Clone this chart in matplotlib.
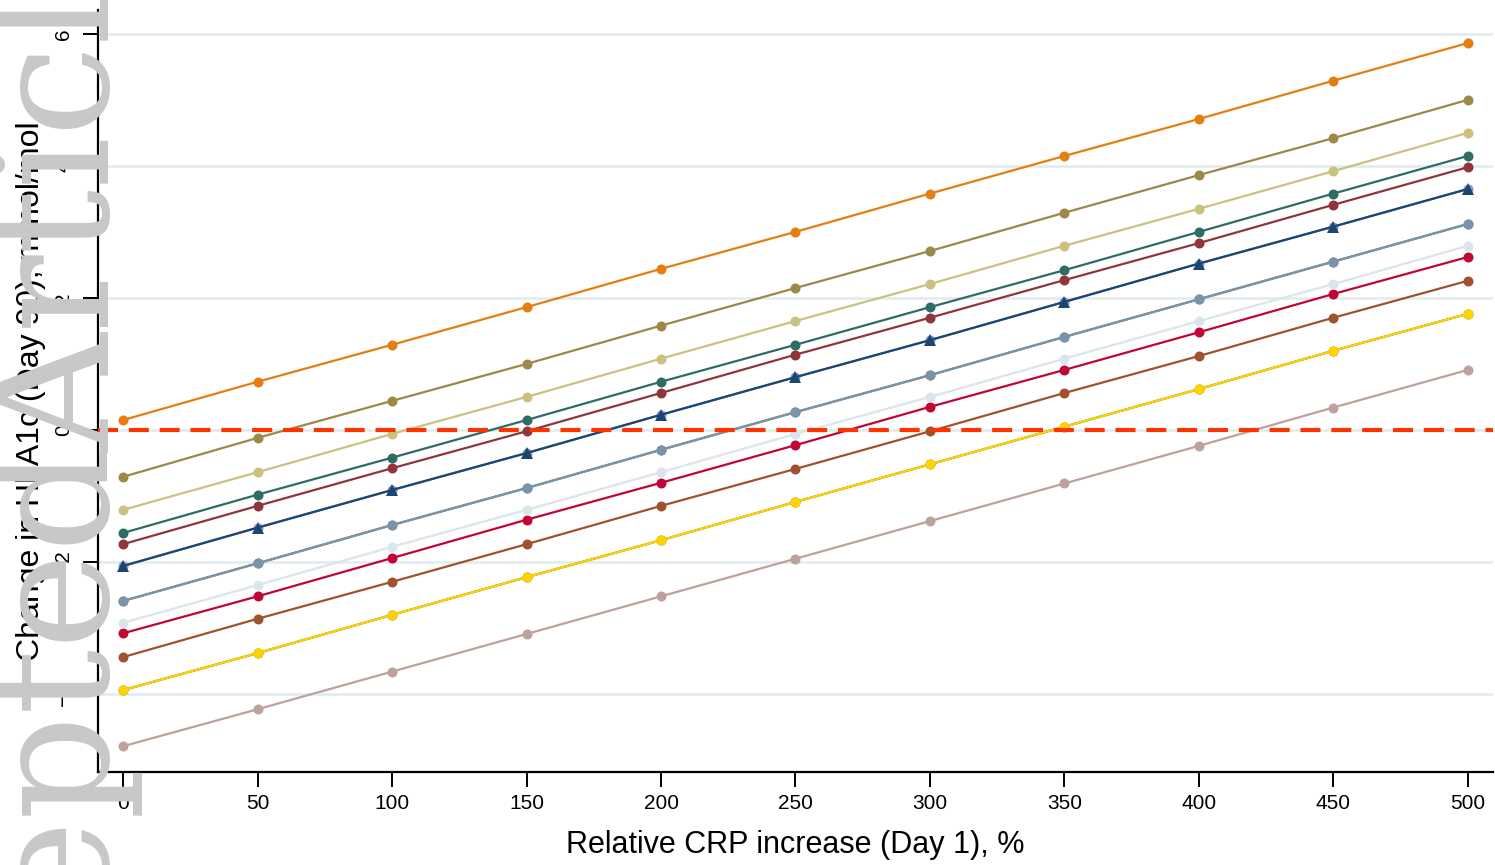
import matplotlib
matplotlib.use("Agg")
import matplotlib.pyplot as plt

# ---------------- data ----------------
crp_increase = [0, 50, 100, 150, 200, 250, 300, 350, 400, 450, 500]

s_dkorange   = [0.15, 0.73, 1.29, 1.86, 2.44, 3.00, 3.58, 4.15, 4.71, 5.29, 5.86]
s_brown      = [-0.71, -0.12, 0.44, 1.00, 1.58, 2.15, 2.71, 3.29, 3.86, 4.42, 5.00]
s_khaki      = [-1.21, -0.64, -0.06, 0.50, 1.08, 1.65, 2.21, 2.79, 3.35, 3.92, 4.50]
s_emerald    = [-1.56, -0.98, -0.42, 0.15, 0.73, 1.29, 1.86, 2.42, 3.00, 3.58, 4.15]
s_maroon     = [-1.73, -1.15, -0.58, -0.02, 0.56, 1.14, 1.70, 2.27, 2.83, 3.41, 3.98]
s_navy       = [-2.06, -1.48, -0.91, -0.35, 0.23, 0.80, 1.36, 1.94, 2.52, 3.08, 3.65]
s_lavender   = [-2.06, -1.48, -0.91, -0.35, 0.23, 0.80, 1.36, 1.94, 2.52, 3.08, 3.65]
s_emidblue   = [-2.59, -2.02, -1.44, -0.88, -0.30, 0.27, 0.83, 1.41, 1.98, 2.55, 3.12]
s_teal       = [-2.59, -2.02, -1.44, -0.88, -0.30, 0.27, 0.83, 1.41, 1.98, 2.55, 3.12]
s_bluishgray = [-2.92, -2.35, -1.77, -1.21, -0.64, -0.06, 0.50, 1.08, 1.65, 2.21, 2.79]
s_cranberry  = [-3.08, -2.52, -1.94, -1.36, -0.80, -0.23, 0.35, 0.91, 1.48, 2.06, 2.62]
s_sienna     = [-3.44, -2.86, -2.30, -1.73, -1.15, -0.59, -0.02, 0.56, 1.12, 1.70, 2.26]
s_gold       = [-3.94, -3.38, -2.80, -2.23, -1.67, -1.09, -0.52, 0.05, 0.62, 1.20, 1.76]
s_forest     = [-3.94, -3.38, -2.80, -2.23, -1.67, -1.09, -0.52, 0.05, 0.62, 1.20, 1.76]
s_erose      = [-4.79, -4.23, -3.66, -3.09, -2.52, -1.95, -1.38, -0.81, -0.24, 0.34, 0.91]

y_ticks = [-4, -2, 0, 2, 4, 6]
x_ticks = [0, 50, 100, 150, 200, 250, 300, 350, 400, 450, 500]

# (values, colour, marker) in drawing order (hidden duplicates first)
series = [
    (s_lavender,   "#938dd2", "o"),
    (s_teal,       "#6e8e84", "o"),
    (s_forest,     "#55752f", "o"),
    (s_navy,       "#1a476f", "^"),
    (s_maroon,     "#90353b", "o"),
    (s_dkorange,   "#e57e10", "o"),
    (s_cranberry,  "#c10534", "o"),
    (s_khaki,      "#cac27e", "o"),
    (s_sienna,     "#a0522d", "o"),
    (s_emidblue,   "#7b92a8", "o"),
    (s_emerald,    "#2d6d66", "o"),
    (s_brown,      "#9c8847", "o"),
    (s_erose,      "#bfa19c", "o"),
    (s_gold,       "#ffd200", "o"),
    (s_bluishgray, "#d9e6eb", "o"),
]

# ---------------- figure ----------------
W, H, DPI = 1495, 865, 100
fig = plt.figure(figsize=(W / DPI, H / DPI), dpi=DPI)
fig.patch.set_facecolor("white")

ax = fig.add_axes([98 / W, 1 - 772 / H, (1493 - 98) / W, (772 - 10) / H])
ax.set_xlim(-9.3, 509.3)
ax.set_ylim(-5.18, 6.36)

for yt in y_ticks:
    ax.axhline(yt, color="#e3ecee", lw=2.0, zorder=1)

for vals, col, mk in series:
    ms = 8.5 if mk == "^" else 7.2
    ax.plot(crp_increase, vals, color=col, lw=1.6, marker=mk, ms=ms,
            markeredgewidth=0, zorder=3)

ax.axhline(0, color="#ff3300", lw=3.0, dashes=(4.8, 2.6), zorder=4)

for side in ["top", "right"]:
    ax.spines[side].set_visible(False)
for side in ["left", "bottom"]:
    ax.spines[side].set_linewidth(1.6)
    ax.spines[side].set_color("black")

ax.set_xticks(x_ticks)
ax.set_yticks(y_ticks)
ax.tick_params(axis="x", length=11, width=1.4, labelsize=15, pad=5)
ax.tick_params(axis="y", length=11, width=1.4, labelsize=15, pad=7)
for lab in ax.get_yticklabels():
    lab.set_rotation(90)
    lab.set_va("center")

for lab in ax.get_xticklabels() + ax.get_yticklabels():
    lab.set_family("Liberation Sans")

ax.set_xlabel("Relative CRP increase (Day 1), %", fontsize=22,
              family="Liberation Sans", labelpad=12)
ax.set_ylabel("Change in HbA1c (Day 90), mmol/mol", fontsize=23,
              family="Liberation Sans")
ax.yaxis.set_label_coords((46 - 98) / (1493 - 98), 0.5)

# watermark
fig.text(110 / W, 1 - 452 / H, "Article", rotation=90, rotation_mode="anchor",
         ha="left", va="baseline", fontsize=118, family="DejaVu Serif",
         color="#c8c8c8", zorder=10)
fig.text(110 / W, 1 - 448 / H, "Accepted", rotation=90, rotation_mode="anchor",
         ha="right", va="baseline", fontsize=118, family="DejaVu Serif",
         color="#c8c8c8", zorder=10)

fig.savefig("out.png", dpi=DPI, facecolor="white")
